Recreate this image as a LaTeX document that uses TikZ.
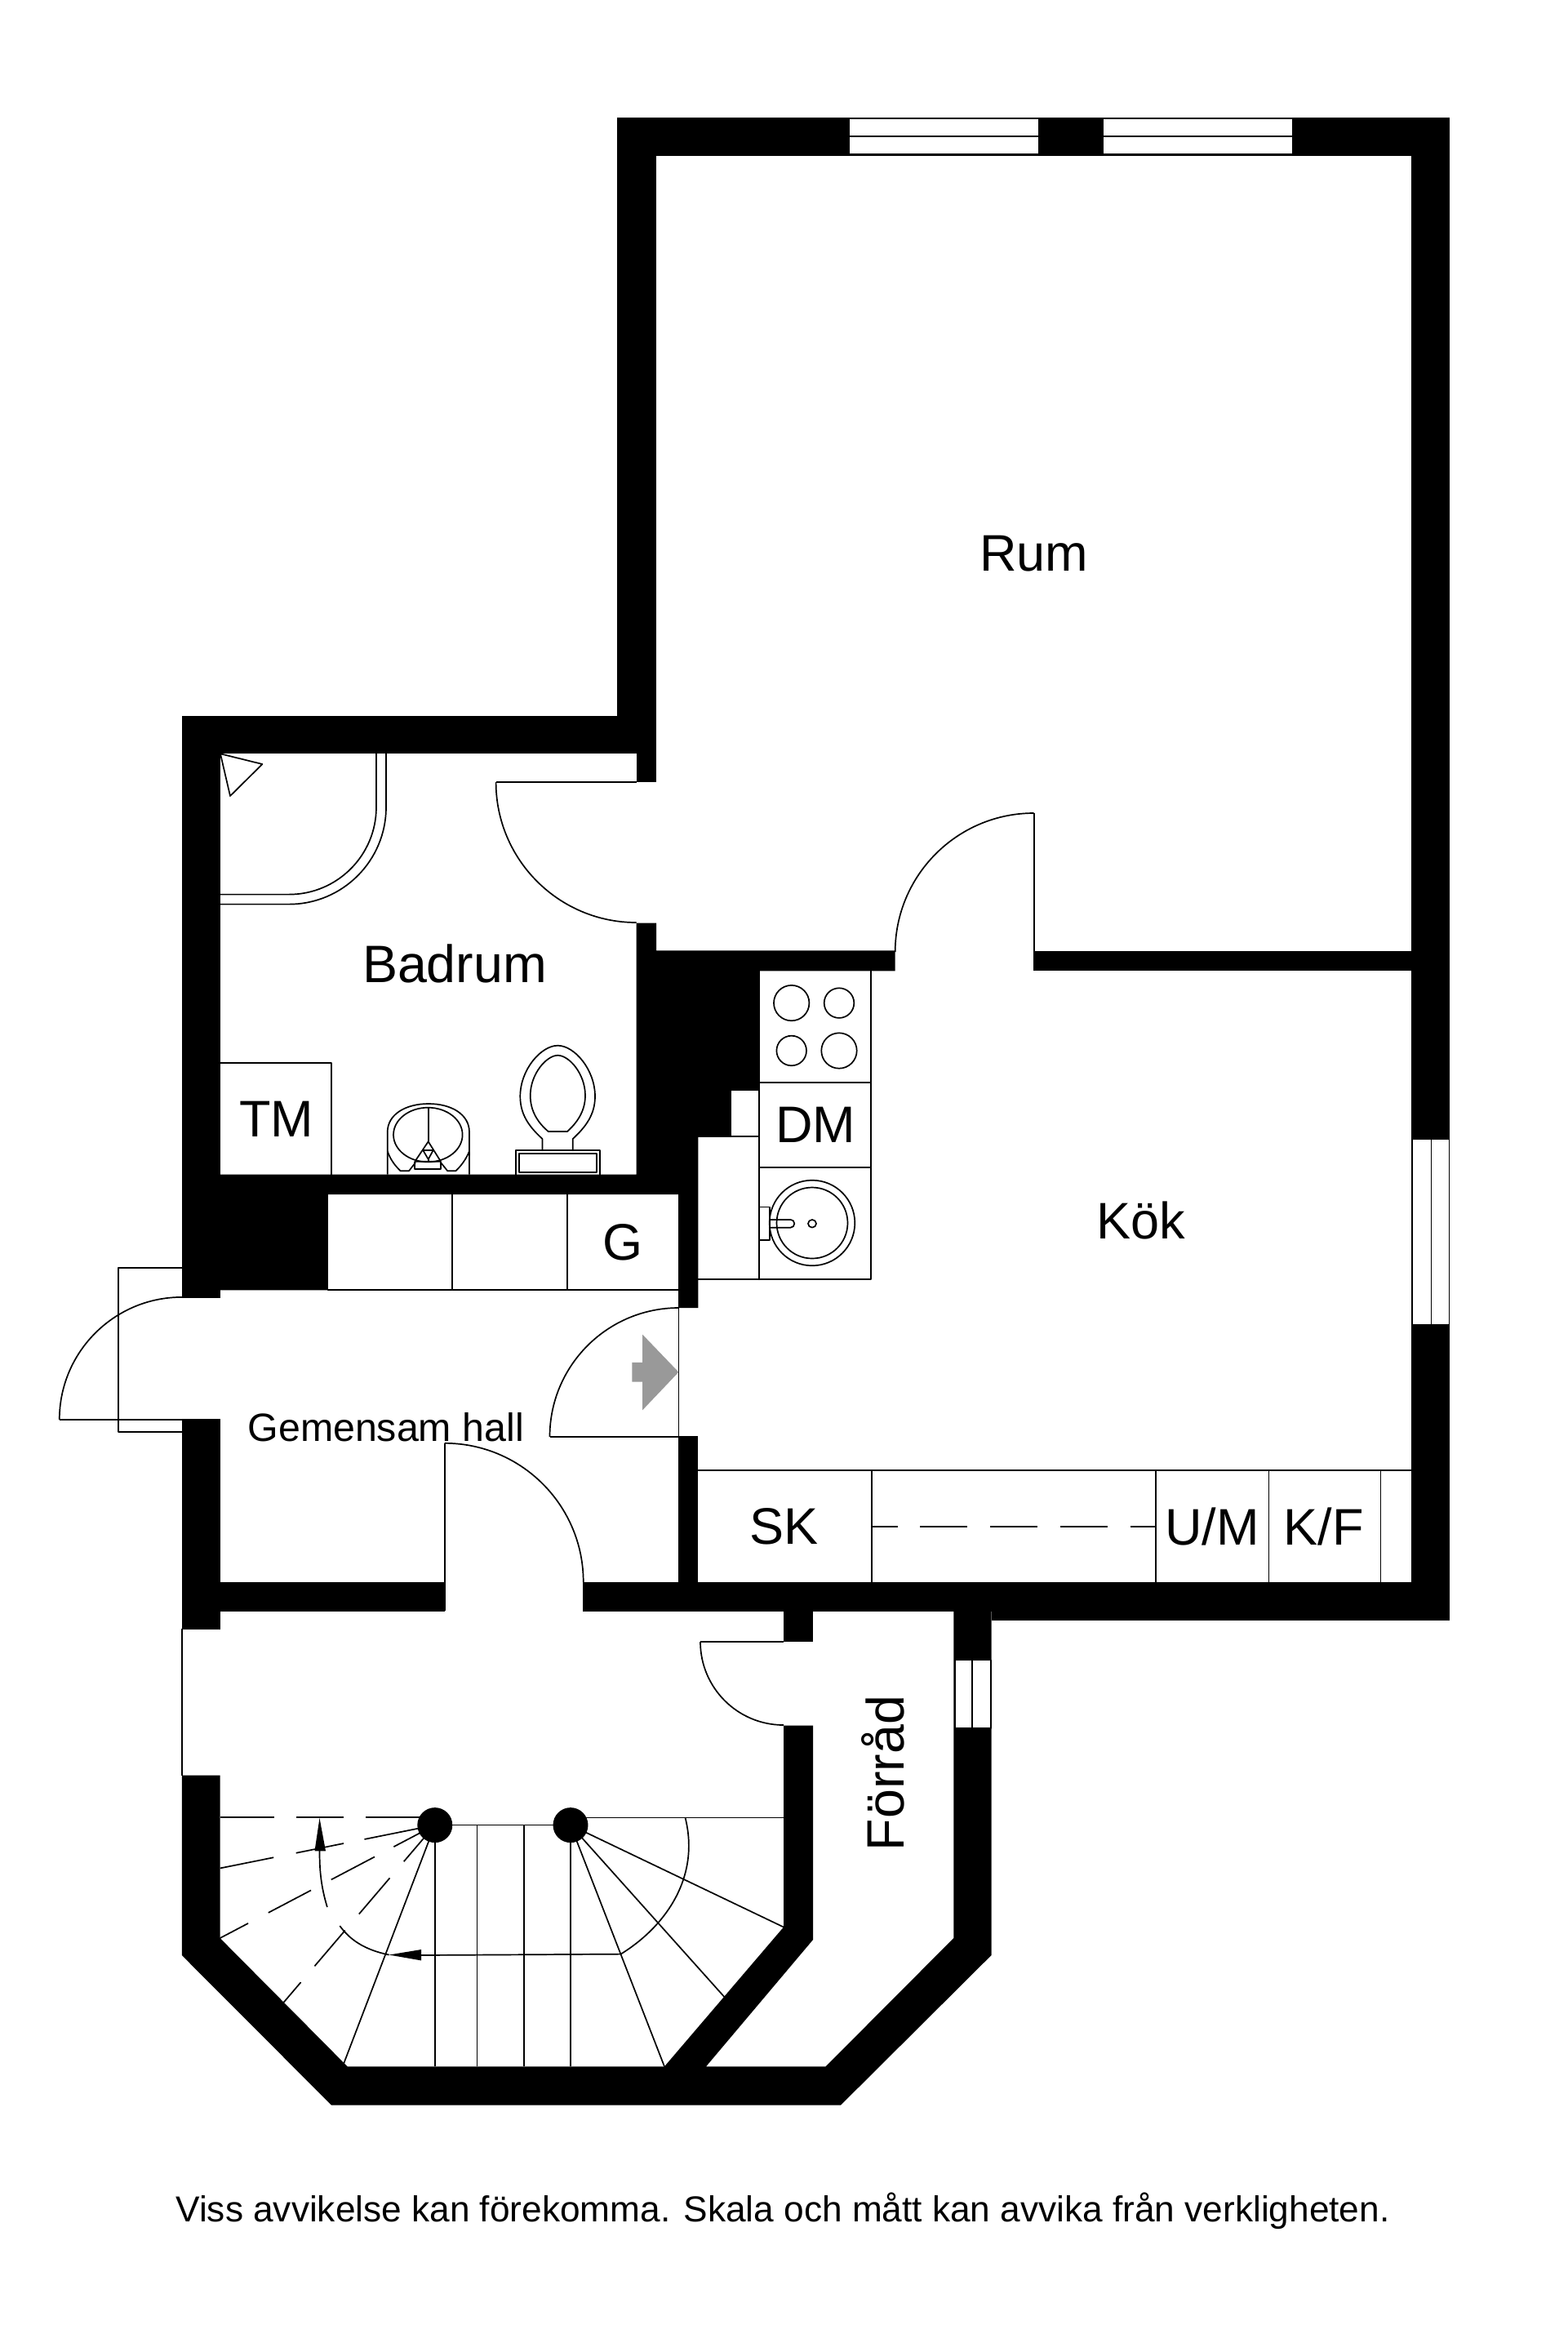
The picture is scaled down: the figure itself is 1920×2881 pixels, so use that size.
\documentclass[tikz,border=0pt]{standalone}
\usepackage{fontspec}
\setmainfont{Liberation Sans}
\begin{document}
\begin{tikzpicture}[x=1pt,y=-1pt,
		wall/.style={fill=black,draw=none},
		plan/.style={draw=black,line width=1.7pt,line join=round},
		windowbox/.style={plan,fill=white},
		roomlabel/.style={inner sep=0pt,font=\fontsize{63}{63}\selectfont},
		biglabel/.style={inner sep=0pt,font=\fontsize{64.5}{64.5}\selectfont},
		halllabel/.style={inner sep=0pt,font=\fontsize{48.3}{48.3}\selectfont},
		footlabel/.style={inner sep=0pt,font=\fontsize{44.2}{44.2}\selectfont},
		post/.style={circle,fill=black,draw=none,minimum size=43pt,inner sep=0pt}
		]
	\path[use as bounding box,fill=white] (0,0) rectangle (1920,2881);

	\fill[wall] (756,143.5) rectangle (1776.4,191);
	\fill[wall] (756,143.5) rectangle (804,923);
	\fill[wall] (222.8,876.5) rectangle (804,923);
	\fill[wall] (779.5,923) rectangle (804,958);
	\fill[wall] (222.8,876.5) rectangle (269.7,1589.5);
	\fill[wall] (1729,143.5) rectangle (1776.4,1985);
	\fill[wall] (779.5,1130.5) -- (804,1130.5) -- (804,1164.4) -- (1096.7,1164.4) -- (1096.7,1189.4)
		-- (930,1189.4) -- (930,1334.7) -- (895,1334.7) -- (895,1392.2) -- (855.3,1392.2)
		-- (855.3,1602) -- (831,1602) -- (831,1463) -- (401.5,1463) -- (401.5,1580.3)
		-- (269.7,1580.3) -- (269.7,1438.5) -- (779.5,1438.5) -- cycle;
	\fill[wall] (1266,1165) rectangle (1729,1189.4);
	\fill[wall] (831,1759) rectangle (855.3,1973.5);
	\fill[wall] (222.8,1738) rectangle (269.7,1995.5);
	\fill[wall] (269.7,1937.7) rectangle (544.7,1973.5);
	\fill[wall] (714,1937.7) rectangle (1776.4,1973.5);
	\fill[wall] (1214.5,1937.7) rectangle (1776.4,1985);
	\fill[wall] (960,1973.5) rectangle (996,2011);
	\fill[wall] (222.8,2174.6) -- (222.8,2395) -- (406,2578.6) -- (1030,2578.6) -- (1214.5,2395)
		-- (1214.5,1973.5) -- (1168.3,1973.5) -- (1168.3,2374) -- (1011.6,2531.3) -- (865,2531.3)
		-- (996,2376) -- (996,2113.5) -- (960,2113.5) -- (960,2360.5) -- (814,2531.3)
		-- (425.7,2531.3) -- (269.6,2374) -- (269.6,2174.6) -- cycle;

	\draw[windowbox] (1040,145) rectangle (1273,189);
	\draw[plan] (1040,167.3) -- (1273,167.3);
	\draw[windowbox] (1351,145) rectangle (1584,189);
	\draw[plan] (1351,167.3) -- (1584,167.3);
	\draw[windowbox] (1730.5,1395.6) rectangle (1775.5,1622.4);
	\draw[plan] (1753.5,1395.6) -- (1753.5,1622.4);
	\draw[windowbox] (1169.7,2033.6) rectangle (1214,2117);
	\draw[plan] (1191,2033.6) -- (1191,2117);

	\draw[plan] (607.6,958) -- (779.5,958);
	\draw[plan] (607.6,958) arc[start angle=180,end angle=90,radius=172];
	\draw[plan] (1266.7,996) -- (1266.7,1165.3);
	\draw[plan] (1266.7,996) arc[start angle=270,end angle=180,radius=170];
	\draw[plan] (831.5,1602) -- (831.5,1760) -- (673.5,1760);
	\draw[plan] (831.5,1602) arc[start angle=270,end angle=180,radius=158];
	\draw[plan] (72.8,1738.9) -- (269.7,1738.9);
	\draw[plan] (222.8,1588.9) arc[start angle=270,end angle=180,radius=150];
	\draw[plan] (222.8,1553) -- (144.7,1553) -- (144.7,1754) -- (222.8,1754);
	\draw[plan] (544.7,1973) -- (544.7,1767.8);
	\draw[plan] (544.7,1767.8) arc[start angle=270,end angle=360,radius=170];
	\draw[plan] (858,2011) -- (960,2011);
	\draw[plan] (858,2011) arc[start angle=180,end angle=90,radius=102];
	\draw[plan] (222.8,1995) -- (222.8,2175);

	\draw[plan] (473,923) -- (473,988.6) arc[start angle=0,end angle=90,radius=119] -- (269.7,1107.6);
	\draw[plan] (461,923) -- (461,988.6) arc[start angle=0,end angle=90,radius=107] -- (269.7,1095.6);
	\draw[plan] (270,923.3) -- (321.4,936) -- (282,975) -- cycle;
	\draw[plan] (269.7,1301.7) -- (406,1301.7) -- (406,1438.5);

	\draw[plan] (632,1438.5) -- (632,1409) -- (734.7,1409) -- (734.7,1438.5);
	\draw[plan] (635.7,1413.3) rectangle (731,1435.7);
	\draw[plan] (664.5,1409) -- (664.5,1395) .. controls (648,1380) and (637.3,1365) .. (637.3,1343)
		.. controls (637.3,1310) and (663,1280.7) .. (683.3,1280.7)
		.. controls (703.6,1280.7) and (729,1310) .. (729,1343)
		.. controls (729,1365) and (718,1380) .. (701.7,1395) -- (701.7,1409);
	\draw[plan] (671.7,1386) .. controls (660,1376) and (649.7,1362) .. (649.7,1342)
		.. controls (649.7,1315) and (670,1292.7) .. (683.3,1292.7)
		.. controls (697,1292.7) and (717,1315) .. (717,1342)
		.. controls (717,1362) and (706,1376) .. (695,1386) -- cycle;

	\draw[plan] (474.7,1438.5) -- (474.7,1386.7) .. controls (474.7,1365) and (497,1352) .. (525,1352)
		.. controls (553,1352) and (575,1365) .. (575,1386.7) -- (575,1438.5);
	\draw[plan] (524.3,1390) ellipse[x radius=42.3,y radius=33.3];
	\draw[plan] (524.7,1356.7) -- (524.7,1398.3);
	\draw[plan] (524.7,1398.3) -- (508.3,1422.7) -- (540,1422.7) -- cycle;
	\draw[plan] (508.3,1422.7) -- (508.3,1432.3) -- (540,1432.3) -- (540,1422.7);
	\draw[plan] (518.3,1409) -- (530.7,1409) -- (524.7,1420) -- cycle;
	\draw[plan] (524.7,1420) -- (524.7,1422.7);
	\draw[plan] (474.7,1410) .. controls (478,1420) and (484,1428) .. (490.7,1434.3) -- (501,1434.3) -- (509,1424);
	\draw[plan] (575,1410) .. controls (571,1420) and (565,1428) .. (558.3,1434.3) -- (548.3,1434.3) -- (540,1424);

	\draw[plan] (401.5,1463) -- (401.5,1580.3) -- (831,1580.3);
	\draw[plan] (554,1463) -- (554,1580.3);
	\draw[plan] (695,1463) -- (695,1580.3);

	\draw[plan] (930,1189.4) -- (930,1567.3);
	\draw[plan] (1067.3,1189.4) -- (1067.3,1567.3) -- (855.3,1567.3);
	\draw[plan] (930,1326) -- (1067.3,1326);
	\draw[plan] (930,1429.8) -- (1067.3,1429.8);
	\draw[plan] (855.3,1392.2) -- (930,1392.2);
	\draw[plan] (895,1334.7) -- (930,1334.7);
	\draw[plan] (895,1334.7) -- (895,1392.2);
	\draw[plan] (969.7,1228.6) circle[radius=21.7];
	\draw[plan] (1028,1228.6) circle[radius=18.3];
	\draw[plan] (969.7,1287) circle[radius=18.3];
	\draw[plan] (1028,1287) circle[radius=21.7];
	\draw[plan] (995,1498) circle[radius=52.3];
	\draw[plan] (995,1498) circle[radius=43.5];
	\draw[plan] (995,1498.8) ellipse[x radius=5,y radius=4.8];
	\draw[plan] (930.3,1478.4) rectangle (943,1519.2);
	\draw[plan] (943,1493.9) -- (968.4,1493.9) arc[start angle=270,end angle=450,radius=4.9] -- (943,1503.7);

	\draw[plan] (855.3,1800.7) -- (1729,1800.7);
	\draw[plan] (1067.9,1800.7) -- (1067.9,1937.7);
	\draw[plan] (1416,1800.7) -- (1416,1937.7);
	\draw[plan] (1554.5,1800.7) -- (1554.5,1937.7);
	\draw[plan] (1691.6,1800.7) -- (1691.6,1937.7);
	\draw[plan,dash pattern=on 32pt off 27.3pt on 58pt off 27.7pt on 58.3pt off 27.5pt on 58.6pt off 27.4pt on 40pt] (1067.9,1870) -- (1416,1870);

	\fill[fill=black!40] (831.4,1680.7) -- (787,1634.5) -- (787,1668.9) -- (774.3,1668.9)
		-- (774.3,1692.6) -- (787,1692.6) -- (787,1727.4) -- cycle;

	\node[post] (postleft) at (532.8,2235.6) {};
	\node[post] (postright) at (699,2235.6) {};
	\draw[plan] (postleft.center) -- (postright.center);
	\draw[plan] (532.8,2235.6) -- (532.8,2531.3);
	\draw[plan] (584.4,2235.6) -- (584.4,2531.3);
	\draw[plan] (642,2235.6) -- (642,2531.3);
	\draw[plan] (699,2235.6) -- (699,2531.3);
	\draw[plan] (699,2226.4) -- (960,2226.4);
	\draw[plan] (postright.center) -- (960,2360.5);
	\draw[plan] (postright.center) -- (887.7,2446.4);
	\draw[plan] (postright.center) -- (814,2531.3);
	\draw[plan] (postleft.center) -- (421,2528);
	\draw[plan,dash pattern=on 85pt off 27pt on 58pt off 27pt on 70pt] (532.8,2226) -- (269.6,2226);
	\draw[plan,dash pattern=on 88pt off 26pt on 59.5pt off 28pt on 80pt] (postleft.center) -- (269.6,2288.4);
	\draw[plan,dash pattern=on 57pt off 26.5pt on 60pt off 28pt on 59pt off 28pt on 100pt] (postleft.center) -- (269.6,2374);
	\draw[plan,dash pattern=on 58.6pt off 26.6pt on 58pt off 26.4pt on 57.4pt off 26pt on 60pt] (postleft.center) -- (347.3,2453);

	\draw[plan] (839.5,2226.4) .. controls (858,2300) and (815,2360) .. (760.5,2393.6) -- (516,2395);
	\fill[black] (476.6,2394.5) -- (516,2388) -- (516,2401.4) -- cycle;
	\draw[plan] (476.6,2394.5) .. controls (445,2388) and (428,2375) .. (416.3,2359);
	\draw[plan] (400.9,2336) .. controls (393,2310) and (391.5,2290) .. (391.5,2267);
	\fill[black] (391.5,2227) -- (385.5,2267.3) -- (399,2267.3) -- cycle;

	\node[roomlabel] (rum) at (1266.7,678) {Rum};
	\node[biglabel] (badrum) at (557,1180.5) {Badrum};
	\node[roomlabel] (kok) at (1397.5,1495) {Kök};
	\node[roomlabel] (tm) at (338.5,1370.6) {TM};
	\node[roomlabel] (dm) at (999.2,1378) {DM};
	\node[roomlabel] (g) at (763,1522) {G};
	\node[roomlabel] (sk) at (960.5,1870) {SK};
	\node[roomlabel] (um) at (1484.8,1870) {U/M};
	\node[roomlabel] (kf) at (1621.5,1870) {K/F};
	\node[halllabel,anchor=base] (hall) at (472.7,1765.8) {Gemensam hall};
	\node[biglabel,rotate=90,anchor=base] (forrad) at (1107,2172) {Förråd};
	\node[footlabel,anchor=base] (foot) at (959,2721.7) {Viss avvikelse kan förekomma. Skala och mått kan avvika från verkligheten.};
\end{tikzpicture}
\end{document}
